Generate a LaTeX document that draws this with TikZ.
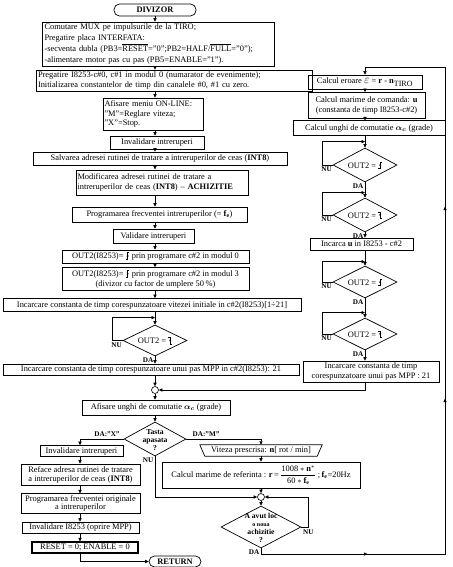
\documentclass[tikz,border=0pt]{standalone}
\usepackage{fontspec}
\setmainfont{Liberation Serif}
\usetikzlibrary{arrows.meta,shapes.geometric,decorations.markings,calc}
\newcommand{\riseedge}{\tikz[baseline=0pt,x=1pt,y=1pt,line width=0.5pt]{\draw (-1.8,0)--(0,0)--(0,6.5)--(1.8,6.5); \fill (-1.1,2.6)--(1.1,2.6)--(0,4.6)--cycle;}}
\newcommand{\falledge}{\tikz[baseline=0pt,x=1pt,y=1pt,line width=0.5pt]{\draw (-1.8,6.5)--(0,6.5)--(0,0)--(1.8,0); \fill (-1.1,3.9)--(1.1,3.9)--(0,1.9)--cycle;}}
\newcommand{\ovl}[1]{\ensuremath{\overline{\mbox{#1}}}}
\tikzset{
  box/.style={draw, line width=0.7pt, rectangle, inner sep=0pt, align=center, font=\fontsize{8.4}{10}\selectfont},
  two/.style={font=\fontsize{8.4}{#1}\selectfont},
  dia/.style={draw, line width=0.7pt, diamond, inner sep=0pt},
  dtext/.style={font=\fontsize{8.4}{9}\selectfont, align=center, inner sep=0pt},
  term/.style={draw, line width=0.7pt, rounded corners=5.5pt, inner sep=0pt, font=\bfseries\fontsize{8.4}{10}\selectfont},
  lbl/.style={font=\bfseries\fontsize{7.2}{8}\selectfont, inner sep=0.6pt},
  arr/.style={-{Triangle[length=3.5pt,width=3.2pt]}, line width=0.6pt},
  jn/.style={draw, circle, minimum size=7pt, inner sep=0pt, line width=0.6pt},
}
\begin{document}
\begin{tikzpicture}[x=1pt,y=-1pt]
\useasboundingbox (0,0) rectangle (452,567);
\coordinate (L) at (155,0);
\coordinate (LL) at (80,0);
\coordinate (M) at (261,0);
\coordinate (R) at (365,0);
\coordinate (Rtop) at (445,67);
\coordinate (Rbot) at (445,554);
% ---------- left column ----------
\node[term, minimum width=82pt, minimum height=12pt] (start) at (155,10) {DIVIZOR};
\node[box, minimum width=232pt, minimum height=44pt, text width=227pt, align=left, two=10.8] (b1) at (158,44)
 {Comutare MUX pe impulsurile de la TIRO;\\
  Pregatire placa INTERFATA:\\
  -secventa dubla (PB3=\ovl{RESET}="0";PB2=HALF/\ovl{FULL}="0");\\
  -alimentare motor pas cu pas (PB5=ENABLE="1").};
\node[box, minimum width=276pt, minimum height=21pt, text width=272pt, align=left, two=9.5] (b2) at (174,80.5)
 {Pregatire I8253-c\#0, c\#1 in modul 0 (numarator de evenimente);\\
  Initializarea constantelor de timp din canalele \#0, \#1 cu zero.};
\node[box, minimum width=100pt, minimum height=32pt, text width=97pt, align=left, two=9.6] (b3) at (153,114)
 {Afisare meniu ON-LINE:\\ "M"=Reglare viteza;\\ "X"=Stop.};
\node[box, minimum width=94pt, minimum height=13pt] (b4) at (157,142.5) {Invalidare intreruperi};
\node[box, minimum width=254pt, minimum height=13pt] (b5) at (160,158.5) {Salvarea adresei rutinei de tratare a intreruperilor de ceas (\textbf{INT8})};
\node[box, line width=1pt, minimum width=172pt, minimum height=25pt, text width=169pt, align=left, two=10] (b6) at (162,182.5)
 {Modificarea adresei rutinei de tratare a\\ intreruperilor de ceas (\textbf{INT8}) -- \textbf{ACHIZITIE}};
\node[box, minimum width=175pt, minimum height=15pt] (b7) at (159.5,214.5) {Programarea frecventei intreruperilor (= \textbf{f}$_{\mathbf{e}}$)};
\node[box, minimum width=81pt, minimum height=14pt] (b8) at (153.5,236) {Validare intreruperi};
\node[box, minimum width=187pt, minimum height=13pt] (b9) at (155.5,256.5) {OUT2(I8253)= \riseedge\ prin programare c\#2 in modul 0};
\node[box, minimum width=187pt, minimum height=23pt, two=9.4] (b10) at (155.5,279) {OUT2(I8253)= \riseedge\ prin programare c\#2 in modul 3\\ (divizor cu factor de umplere 50\,\%)};
\node[box, minimum width=298pt, minimum height=13pt] (b11) at (152,305) {Incarcare constanta de timp corespunzatoare vitezei initiale in c\#2(I8253)[1÷21]};
\node[dia, minimum width=64pt, minimum height=31pt] (d1) at (155,340.5) {};
\node[dtext] at (d1) {OUT2 = \falledge};
\node[box, minimum width=296pt, minimum height=11pt] (b12) at (151,369.5) {Incarcare constanta de timp corespunzatoare unui pas MPP in c\#2(I8253): 21};
\node[jn] (c1) at (155,390) {};
\node[box, minimum width=148pt, minimum height=15pt] (b13) at (156,407.5) {Afisare unghi de comutatie {\boldmath$\alpha_c$} (grade)};
\node[dia, minimum width=62pt, minimum height=34pt] (d2) at (155,439) {};
\node[dtext, font=\bfseries\fontsize{7.6}{8}\selectfont] at ([yshift=-1pt]d2.center) {Tasta\\apasata\\?};
% ---------- bottom left ----------
\node[box, minimum width=83pt, minimum height=11pt] (b14) at (81.5,451) {Invalidare intreruperi};
\node[box, minimum width=119pt, minimum height=21pt, two=9] (b15) at (80.5,474.5) {Reface adresa rutinei de tratare\\ a intreruperilor de ceas (\textbf{INT8})};
\node[box, minimum width=119pt, minimum height=19.5pt, two=8.4] (b16) at (80.5,503.5) {Programarea frecventei originale\\ a intreruperilor};
\node[box, minimum width=117pt, minimum height=11pt] (b17) at (80.5,527.5) {Invalidare I8253 (oprire MPP)};
\node[box, line width=1.3pt, minimum width=106pt, minimum height=11pt] (b18) at (85,547.5) {RESET = 0; ENABLE = 0};
\node[term, minimum width=52pt, minimum height=11pt] (ret) at (175,561.5) {RETURN};
% ---------- middle ----------
\node[font=\fontsize{8.4}{10}\selectfont, inner sep=0pt, minimum width=112pt, minimum height=11pt] (p1) at (261,450.5) {Viteza prescrisa: \textbf{n}[ rot / min]};
\draw[line width=0.7pt] ([xshift=-5pt]p1.north west) -- ([xshift=5pt]p1.north east) -- (p1.south east) -- (p1.south west) -- cycle;
\node[box, minimum width=198pt, minimum height=26pt] (b19) at (261,475)
 {Calcul marime de referinta : \textbf{r}\,=\,$\displaystyle\frac{\mbox{1008}\ast\mathbf{n}^{\ast}}{\mbox{60}\ast\mathbf{f}_{\mathbf{e}}}$\,;\,\textbf{f}$_{\mathbf{e}}$=20Hz};
\node[jn] (c2) at (261,497) {};
\node[dia, minimum width=80pt, minimum height=42pt] (d3) at (261,527) {};
\node[dtext, font=\bfseries\fontsize{7.6}{7.8}\selectfont] at ([yshift=-1pt]d3.center) {A avut loc\\{\fontsize{6}{6.5}\selectfont o noua}\\achizitie\\?};
% ---------- right column ----------
\node[box, minimum width=114pt, minimum height=14pt] (r1) at (365,82) {Calcul eroare {\large$\varepsilon$} = \textbf{r} - \textbf{n}$_{\mbox{\footnotesize TIRO}}$};
\node[box, minimum width=117pt, minimum height=26pt, two=10] (r2) at (366.5,105.5) {Calcul marime de comanda: \textbf{u}\\ (constanta de timp I8253-c\#2)};
\node[box, line width=1pt, minimum width=152pt, minimum height=14pt] (r3) at (369,128) {Calcul unghi de comutatie {\boldmath$\alpha_c$} (grade)};
\node[dia, minimum width=64pt, minimum height=34pt] (rd1) at (365,165) {};
\node[dtext] at (rd1) {OUT2 = \riseedge};
\node[dia, minimum width=64pt, minimum height=34pt] (rd2) at (365,215) {};
\node[dtext] at (rd2) {OUT2 = \falledge};
\node[box, minimum width=103pt, minimum height=12pt] (r4) at (361.5,244) {Incarca \textbf{u} in I8253 - c\#2};
\node[dia, minimum width=64pt, minimum height=32pt] (rd3) at (365,282) {};
\node[dtext] at (rd3) {OUT2 = \riseedge};
\node[dia, minimum width=64pt, minimum height=32pt] (rd4) at (365,334) {};
\node[dtext] at (rd4) {OUT2 = \falledge};
\node[box, minimum width=136pt, minimum height=21pt, two=9.2] (r5) at (371,371.5) {Incarcare constanta de timp\\ corespunzatoare unui pas MPP : 21};
% ---------- connectors left ----------
\draw[arr] (start.south -| L) -- (b1.north -| L);
\draw[arr] (b1.south -| L) -- (b2.north -| L);
\draw[arr] (b2.south -| L) -- (b3.north -| L);
\draw[arr] (b3.south -| L) -- (b4.north -| L);
\draw[arr] (b4.south -| L) -- (b5.north -| L);
\draw[arr] (b5.south -| L) -- (b6.north -| L);
\draw[arr] (b6.south -| L) -- (b7.north -| L);
\draw[arr] (b7.south -| L) -- (b8.north -| L);
\draw[arr] (b8.south -| L) -- (b9.north -| L);
\draw[arr] (b9.south -| L) -- (b10.north -| L);
\draw[arr] (b10.south -| L) -- (b11.north -| L);
\draw[arr] (b11.south -| L) -- (d1.north);
\draw[arr] (d1.west) -- ++(-10,0) |- ($(d1.north)+(0,-7)$);
\node[lbl, anchor=north east] at ([yshift=-1pt]d1.west) {NU};
\draw[arr] (d1.south) -- (b12.north -| L);
\node[lbl, anchor=north east] at ([xshift=-1pt,yshift=-1pt]d1.south) {DA};
\draw[arr] (b12.south -| L) -- (c1.north);
\draw[arr] (c1.south) -- (b13.north -| L);
\draw[arr] (b13.south -| L) -- (d2.north);
\draw[arr] (d2.west) -| (b14.north -| LL);
\node[lbl, anchor=south] at (107,437) {DA:"X"};
\draw[arr] (d2.east) -| (p1.north);
\node[lbl, anchor=south] at (206,437) {DA:"M"};
\draw[arr] (d2.south) |- (c2.west);
\node[lbl, anchor=north east] at ([xshift=-1pt,yshift=-1pt]d2.south) {NU};
% ---------- bottom left ----------
\draw[arr] (b14.south -| LL) -- (b15.north -| LL);
\draw[arr] (b15.south -| LL) -- (b16.north -| LL);
\draw[arr] (b16.south -| LL) -- (b17.north -| LL);
\draw[arr] (b17.south -| LL) -- (b18.north -| LL);
\draw[arr] (b18.south -| LL) |- (ret.west);
% ---------- middle ----------
\draw[arr] (p1.south) -- (b19.north -| M);
\draw[arr] (b19.south -| M) -- (c2.north);
\draw[arr] (c2.south) -- (d3.north);
\draw[arr] (d3.east) -- ++(7,0) |- (c2.east);
\node[lbl, anchor=north west] at ([xshift=1pt,yshift=-2pt]d3.east) {NU};
\node[lbl, anchor=north east] at ([xshift=-1pt,yshift=-1pt]d3.south) {DA};
\draw[arr, postaction={decorate}, decoration={markings,
   mark=at position 112pt with {\arrow{Triangle[length=3.5pt,width=3.2pt]}},
   mark=at position 345pt with {\arrow{Triangle[length=3.5pt,width=3.2pt]}},
   mark=at position 537pt with {\arrow{Triangle[length=3.5pt,width=3.2pt]}}}]
  (d3.south) -- (d3.south |- Rbot) -- (Rbot) -- (Rtop) -- (R |- Rtop) -- (r1.north -| R);
% ---------- right column ----------
\draw[arr] (r1.south -| R) -- (r2.north -| R);
\draw[arr] (r2.south -| R) -- (r3.north -| R);
\draw[arr] (r3.south -| R) -- (rd1.north);
\draw[arr] (rd1.west) -- ++(-10,0) |- ($(rd1.north)+(0,-6)$);
\node[lbl, anchor=north east] at ([yshift=-1pt]rd1.west) {NU};
\draw[arr] (rd1.south) -- (rd2.north);
\node[lbl, anchor=north east] at ([xshift=-1pt,yshift=-1pt]rd1.south) {DA};
\draw[arr] (rd2.west) -- ++(-10,0) |- ($(rd2.north)+(0,-5)$);
\node[lbl, anchor=north east] at ([yshift=-1pt]rd2.west) {NU};
\draw[arr] (rd2.south) -- (r4.north -| R);
\node[lbl, anchor=north east] at ([xshift=-1pt,yshift=-1pt]rd2.south) {DA};
\draw[arr] (r4.south -| R) -- (rd3.north);
\draw[arr] (rd3.west) -- ++(-10,0) |- ($(rd3.north)+(0,-4)$);
\node[lbl, anchor=north east] at ([yshift=-1pt]rd3.west) {NU};
\draw[arr] (rd3.south) -- (rd4.north);
\node[lbl, anchor=north east] at ([xshift=-1pt,yshift=-1pt]rd3.south) {DA};
\draw[arr] (rd4.west) -- ++(-10,0) |- ($(rd4.north)+(0,-5)$);
\node[lbl, anchor=north east] at ([yshift=-1pt]rd4.west) {NU};
\draw[arr] (rd4.south) -- (r5.north -| R);
\node[lbl, anchor=north east] at ([xshift=-1pt,yshift=-1pt]rd4.south) {DA};
\draw[arr] (r5.south -| R) |- (c1.east);
\end{tikzpicture}
\end{document}
